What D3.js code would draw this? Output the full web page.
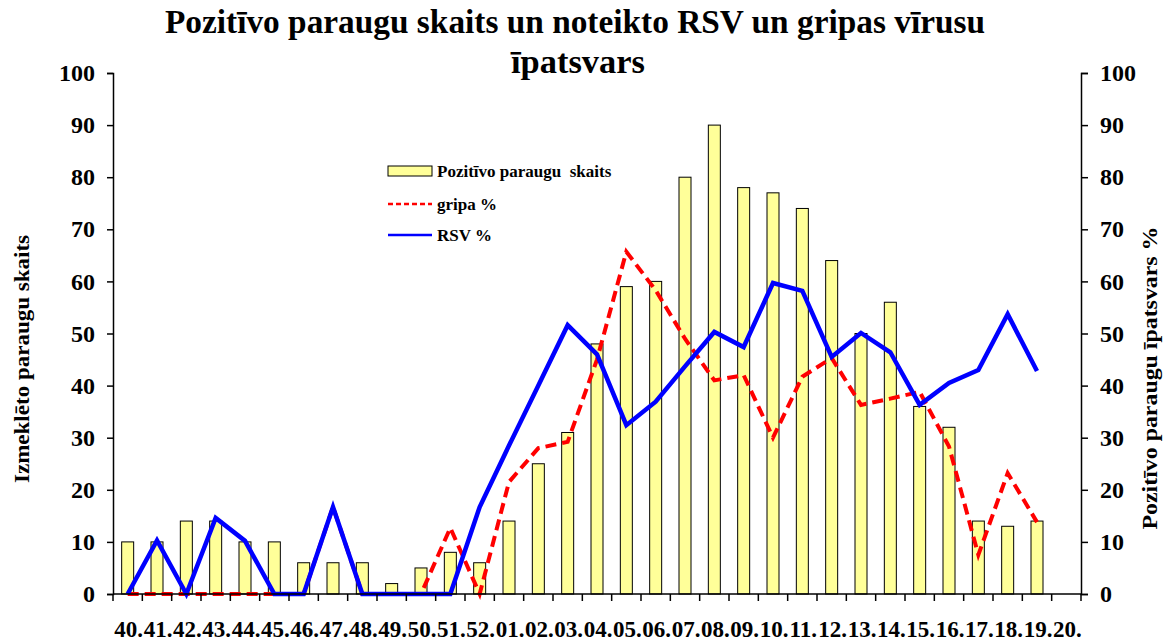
<!DOCTYPE html>
<html>
<head>
<meta charset="utf-8">
<script src="https://cdn.jsdelivr.net/npm/d3@7"></script>
<style>
  body { margin: 0; background: #fff; }
  svg { display: block; font-family: "Liberation Serif", "Times New Roman", serif; font-weight: bold; }
</style>
</head>
<body>
<div id="chart"></div>
<script>
// weeks (40..52 of one year, 01..20 of next)
var weeks = ["40", "41", "42", "43", "44", "45", "46", "47", "48", "49", "50", "51", "52",
    "01", "02", "03", "04", "05", "06", "07", "08", "09", "10", "11", "12", "13", "14", "15", "16", "17", "18", "19", "20"];

// Pozitīvo paraugu skaits (bars, left axis)
var pozitivi = [10, 10, 14, 14, 10, 10, 6, 6, 6, 2, 5, 8, 6,
    14, 25, 31, 48, 59, 60, 80, 90, 78, 77, 74, 64, 50, 56, 36, 32, 14, 13, 14, null];

// gripa % (right axis)
var gripa = [0, 0, 0, 0, 0, 0, 0, 16.7, 0, 0, 0, 12.7, 0,
    21.5, 28, 29.2, 45, 65.7, 58.3, 49, 41, 42, 30, 41.7, 45.3, 36.3, 37.5, 38.8, 28.3, 7.5, 23.2, 13.8, null];

// RSV % (right axis)
var rsv = [0, 10.3, 0, 14.6, 10.2, 0, 0, 16.7, 0, 0, 0, 0, 16.7,
    28.5, 40, 51.6, 46, 32.4, 36.9, 43.7, 50.3, 47.4, 59.7, 58.2, 45.5, 50.1, 46.4, 36.3, 40.5, 43, 53.7, 42.8, null];

var yTicks = [0, 10, 20, 30, 40, 50, 60, 70, 80, 90, 100];

var W = 1171, H = 641;
var margin = { top: 73, right: 90, bottom: 47, left: 113 };

var svg = d3.select("#chart")
    .append("svg")
    .attr("width", W)
    .attr("height", H);

var x = d3.scaleBand()
    .domain(weeks)
    .range([margin.left, W - margin.right]);

var y = d3.scaleLinear()
    .domain([0, 100])
    .range([H - margin.bottom, margin.top]);

var y2 = d3.scaleLinear()
    .domain([0, 100])
    .range([H - margin.bottom, margin.top]);

// title
svg.append("text")
    .attr("x", 575).attr("y", 33)
    .attr("text-anchor", "middle")
    .attr("textLength", 820)
    .attr("lengthAdjust", "spacingAndGlyphs")
    .style("font-size", "33px")
    .text("Pozitīvo paraugu skaits un noteikto RSV un gripas vīrusu");
svg.append("text")
    .attr("x", 578).attr("y", 73)
    .attr("text-anchor", "middle")
    .attr("textLength", 134)
    .attr("lengthAdjust", "spacingAndGlyphs")
    .style("font-size", "33px")
    .text("īpatsvars");

// bars
var barW = 12;
svg.selectAll("rect.bar")
    .data(weeks.map(function(w, i) { return { w: w, v: pozitivi[i] }; })
        .filter(function(d) { return d.v != null; }))
    .enter()
    .append("rect")
    .attr("class", "bar")
    .attr("x", function(d) { return x(d.w) + x.bandwidth() / 2 - barW / 2; })
    .attr("y", function(d) { return y(d.v); })
    .attr("width", barW)
    .attr("height", function(d) { return y(0) - y(d.v); })
    .attr("fill", "#ffff99")
    .attr("stroke", "#000")
    .attr("stroke-width", 1);

// lines
var line = d3.line()
    .defined(function(d) { return d.v != null; })
    .x(function(d) { return x(d.w) + x.bandwidth() / 2; })
    .y(function(d) { return y2(d.v); });

svg.append("path")
    .datum(weeks.map(function(w, i) { return { w: w, v: gripa[i] }; }))
    .attr("d", line)
    .attr("fill", "none")
    .attr("stroke", "#ff0000")
    .attr("stroke-width", 4)
    .attr("stroke-dasharray", "11,6");

svg.append("path")
    .datum(weeks.map(function(w, i) { return { w: w, v: rsv[i] }; }))
    .attr("d", line)
    .attr("fill", "none")
    .attr("stroke", "#0000ff")
    .attr("stroke-width", 4.5)
    .attr("stroke-linejoin", "miter");

// left axis
var gl = svg.append("g")
    .attr("transform", "translate(" + margin.left + ",0)")
    .call(d3.axisLeft(y).tickValues(yTicks).tickSize(6).tickPadding(12));
gl.selectAll("text").style("font-size", "24px").style("font-family", "Liberation Serif").style("font-weight", "bold").attr("fill", "#000");

// right axis
var gr = svg.append("g")
    .attr("transform", "translate(" + (W - margin.right) + ",0)")
    .call(d3.axisRight(y2).tickValues(yTicks).tickSize(7).tickPadding(12));
gr.selectAll("text").style("font-size", "24px").style("font-family", "Liberation Serif").style("font-weight", "bold").attr("fill", "#000");

[gl, gr].forEach(function(g) {
    g.select(".domain").attr("stroke", "#000").attr("stroke-width", 1.5);
    g.selectAll(".tick line").attr("stroke", "#000").attr("stroke-width", 1.5);
});

// x axis: ticks between categories
var bottom = H - margin.bottom;
svg.append("line")
    .attr("x1", margin.left).attr("x2", W - margin.right)
    .attr("y1", bottom).attr("y2", bottom)
    .attr("stroke", "#000").attr("stroke-width", 1.5);
svg.selectAll("line.xtick")
    .data(weeks.concat(["end"]))
    .enter()
    .append("line")
    .attr("class", "xtick")
    .attr("x1", function(d, i) { return margin.left + i * x.step(); })
    .attr("x2", function(d, i) { return margin.left + i * x.step(); })
    .attr("y1", bottom).attr("y2", bottom + 7)
    .attr("stroke", "#000").attr("stroke-width", 1.5);
svg.selectAll("text.xlab")
    .data(weeks)
    .enter()
    .append("text")
    .attr("class", "xlab")
    .attr("x", function(d) { return x(d) + x.bandwidth() / 2 + 1; })
    .attr("y", 637)
    .attr("text-anchor", "middle")
    .style("font-size", "23px")
    .text(function(d) { return d + "."; });

// axis titles
svg.append("text")
    .attr("transform", "translate(29,359) rotate(-90)")
    .attr("text-anchor", "middle")
    .attr("textLength", 248)
    .attr("lengthAdjust", "spacingAndGlyphs")
    .style("font-size", "22px")
    .text("Izmeklēto paraugu skaits");
svg.append("text")
    .attr("transform", "translate(1157,378) rotate(-90)")
    .attr("text-anchor", "middle")
    .attr("textLength", 303)
    .attr("lengthAdjust", "spacingAndGlyphs")
    .style("font-size", "22px")
    .text("Pozitīvo paraugu īpatsvars %");

// legend
var lg = svg.append("g").attr("transform", "translate(388,0)");
lg.append("rect")
    .attr("x", 0).attr("y", 166).attr("width", 44).attr("height", 10)
    .attr("fill", "#ffff99").attr("stroke", "#000").attr("stroke-width", 1);
lg.append("line")
    .attr("x1", 0).attr("x2", 44).attr("y1", 204).attr("y2", 204)
    .attr("stroke", "#ff0000").attr("stroke-width", 2.5).attr("stroke-dasharray", "5,3");
lg.append("line")
    .attr("x1", 0).attr("x2", 44).attr("y1", 235).attr("y2", 235)
    .attr("stroke", "#0000ff").attr("stroke-width", 2.5);
var legendText = ["Pozitīvo paraugu  skaits", "gripa %", "RSV %"];
lg.selectAll("text.lt")
    .data(legendText)
    .enter()
    .append("text")
    .attr("class", "lt")
    .attr("x", 49)
    .attr("y", function(d, i) { return [177, 210, 241][i]; })
    .style("font-size", "17px")
    .style("white-space", "pre")
    .text(function(d) { return d; });
</script>
</body>
</html>
